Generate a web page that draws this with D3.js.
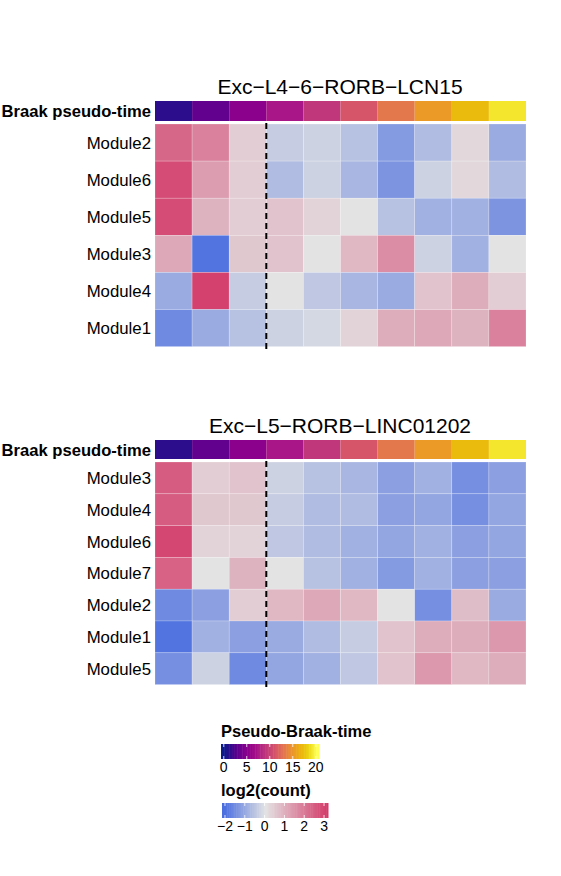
<!DOCTYPE html>
<html><head><meta charset="utf-8">
<script src="https://cdn.jsdelivr.net/npm/d3@7"></script>
<style>body{margin:0;background:#fff;font-family:"Liberation Sans",Arial,sans-serif}</style>
</head><body><svg id="c" width="561" height="876"></svg>
<script>
const pseudoTime = [1, 3, 5, 7, 9, 11, 13, 15, 17, 19];
const braakColors = ["#0d1a8c", "#4b008c", "#7b008f", "#9c008a", "#b42a84", "#cc4474", "#e0665e", "#e98a3c", "#eeaa12", "#e6cc00", "#ffff55"];

const title1 = "Exc\u2212L4\u22126\u2212RORB\u2212LCN15";
const rows1 = ["Module2", "Module6", "Module5", "Module3", "Module4", "Module1"];
const values1 = [
  [2.3, 1.8, 0.4, -0.4, -0.3, -0.6, -1.3, -0.7, 0.2, -1.0],
  [2.8, 1.3, 0.4, -0.7, -0.3, -0.8, -1.4, -0.3, 0.2, -0.7],
  [2.8, 0.9, 0.4, 0.6, 0.3, 0.0, -0.6, -0.9, -0.9, -1.4],
  [1.1, -2.0, 0.5, 0.6, 0.0, 0.8, 1.6, -0.3, -0.9, 0.0],
  [-1.0, 3.0, -0.4, 0.0, -0.5, -0.8, -1.0, 0.6, 1.0, 0.4],
  [-1.6, -1.0, -0.6, -0.3, -0.2, 0.3, 1.0, 1.1, 0.9, 1.8]
];

const title2 = "Exc\u2212L5\u2212RORB\u2212LINC01202";
const rows2 = ["Module3", "Module4", "Module6", "Module7", "Module2", "Module1", "Module5"];
const values2 = [
  [2.5, 0.4, 0.6, -0.3, -0.6, -0.8, -1.2, -0.9, -1.5, -1.2],
  [2.5, 0.5, 0.5, -0.4, -0.7, -0.7, -1.2, -1.1, -1.5, -1.1],
  [2.9, 0.3, 0.3, -0.5, -0.7, -0.9, -1.1, -0.9, -1.2, -1.1],
  [2.4, 0.0, 0.9, 0.0, -0.6, -0.9, -1.3, -0.9, -1.2, -1.2],
  [-1.6, -1.2, 0.4, 0.8, 1.1, 0.8, 0.0, -1.5, 0.7, -1.0],
  [-2.0, -0.9, -1.2, -1.0, -0.7, -0.4, 0.6, 1.0, 1.0, 1.4],
  [-1.5, -0.3, -1.6, -1.1, -0.9, -0.5, 0.6, 1.4, 0.8, 1.0]
];

const braakTicks = [0, 5, 10, 15, 20];
const countTicks = [-2, -1, 0, 1, 2, 3];

const svg = d3.select("#c");
const braakColor = d3.scaleSequential(d3.interpolateRgbBasis(braakColors)).domain([0, 20]);
const countColor = d3.scaleLinear().domain([-2.1, 0, 3.1]).range(["#4a6ee0", "#e3e3e3", "#d33c6a"]).clamp(true);

const x = d3.scaleBand().domain(d3.range(pseudoTime.length)).range([155, 526]);

function heatmap(title, rows, values, top, barH, rowH) {
  const g = svg.append("g");
  g.append("text").attr("x", 340).attr("y", top - 7).attr("text-anchor", "middle")
    .attr("font-size", 21).text(title);
  g.selectAll(".ann").data(pseudoTime).join("rect")
    .attr("x", (d, i) => x(i)).attr("y", top).attr("width", x.bandwidth()).attr("height", barH)
    .attr("fill", d => braakColor(d));
  g.append("text").attr("x", 151).attr("y", top + barH / 2 + 6).attr("text-anchor", "end")
    .attr("font-size", 16.6).attr("font-weight", "bold").text("Braak pseudo-time");
  const y0 = top + barH + 3;
  const y = d3.scaleBand().domain(rows).range([y0, y0 + rowH * rows.length]);
  rows.forEach((r, ri) => {
    g.selectAll(".r" + ri).data(values[ri]).join("rect")
      .attr("x", (d, i) => x(i)).attr("y", y(r)).attr("width", x.bandwidth()).attr("height", y.bandwidth())
      .attr("fill", d => countColor(d)).attr("stroke", "#fff").attr("stroke-opacity", 0.35).attr("stroke-width", 0.6);
    g.append("text").attr("x", 151).attr("y", y(r) + y.bandwidth() / 2 + 6).attr("text-anchor", "end")
      .attr("font-size", 16.8).text(r);
  });
  g.append("line").attr("x1", x(3)).attr("x2", x(3)).attr("y1", y0 - 1).attr("y2", y0 + rowH * rows.length + 3)
    .attr("stroke", "#000").attr("stroke-width", 2).attr("stroke-dasharray", "6,4");
}

heatmap(title1, rows1, values1, 101, 20, 37.1);
heatmap(title2, rows2, values2, 440, 19, 31.8);

// legends
function legend(title, scale, domain, ticks, x0, x1, yTop) {
  const g = svg.append("g");
  g.append("text").attr("x", 221).attr("y", yTop - 7).attr("font-size", 16.5).attr("font-weight", "bold").text(title);
  const lx = d3.scaleLinear().domain(domain).range([x0, x1]);
  const n = 60;
  const steps = d3.range(n).map(i => domain[0] + (domain[1] - domain[0]) * i / n);
  g.selectAll("rect").data(steps).join("rect")
    .attr("x", d => lx(d)).attr("y", yTop).attr("width", (x1 - x0) / n + 0.5).attr("height", 15)
    .attr("fill", d => scale(d));
  g.selectAll(".tk").data(ticks).join("line")
    .attr("x1", d => lx(d)).attr("x2", d => lx(d)).attr("y1", yTop).attr("y2", yTop + 3)
    .attr("stroke", "#fff").attr("stroke-opacity", 0.8);
  g.selectAll(".tk2").data(ticks).join("line")
    .attr("x1", d => lx(d)).attr("x2", d => lx(d)).attr("y1", yTop + 12).attr("y2", yTop + 15)
    .attr("stroke", "#fff").attr("stroke-opacity", 0.8);
  g.selectAll(".lb").data(ticks).join("text")
    .attr("x", d => lx(d)).attr("y", yTop + 28).attr("text-anchor", "middle").attr("font-size", 14)
    .text(d => d < 0 ? "\u2212" + Math.abs(d) : d);
}
legend("Pseudo-Braak-time", braakColor, [-0.6, 20.7], braakTicks, 221, 319, 744);
legend("log2(count)", countColor, [-2.15, 3.2], countTicks, 222, 328, 803);
</script></body></html>
